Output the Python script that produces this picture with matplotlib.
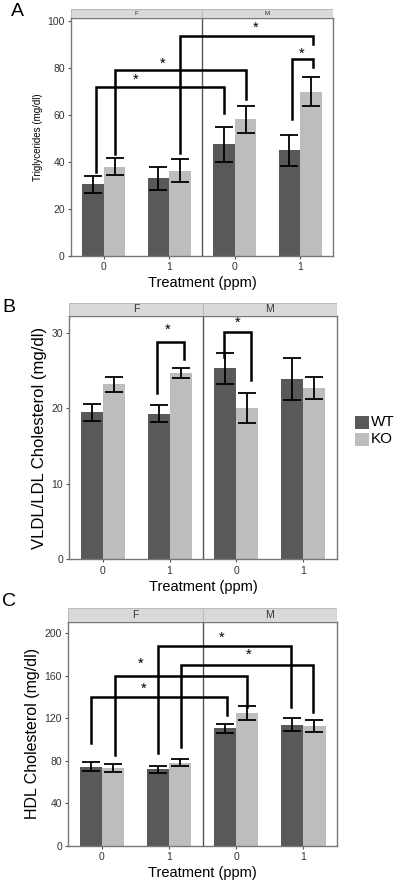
import numpy as np
import matplotlib
matplotlib.use('Agg')
import matplotlib.pyplot as plt
from matplotlib.patches import Rectangle

plt.rcParams['font.family'] = ['Liberation Sans', 'DejaVu Sans']

###################################Data#########################################

groups = ['F', 'M']
doses = ['0', '1', '0', '1']

# Panel A - Triglycerides
tg_wt = [30.5, 33.0, 47.5, 45.0]
tg_wt_se = [3.5, 5.0, 7.5, 6.5]
tg_ko = [38.0, 36.3, 58.2, 70.0]
tg_ko_se = [3.5, 4.8, 5.8, 6.0]

# Panel B - VLDL/LDL
vl_wt = [19.5, 19.3, 25.3, 23.9]
vl_wt_se = [1.1, 1.1, 2.1, 2.8]
vl_ko = [23.2, 24.7, 20.1, 22.7]
vl_ko_se = [1.0, 0.7, 2.0, 1.5]

# Panel C - HDL
hdl_wt = [74.6, 72.4, 110.7, 114.1]
hdl_wt_se = [4.4, 3.3, 4.0, 6.0]
hdl_ko = [73.7, 78.4, 125.4, 112.9]
hdl_ko_se = [3.9, 3.5, 6.6, 5.6]

# Significance brackets: x_left, y_left, x_right, y_right, y_top, star_x, star_y
tg_sig = [(0.88, 35.8, 2.84, 61.0, 71.8, 1.49, 75.0),
          (1.17, 43.4, 3.17, 66.7, 79.1, 1.90, 82.0),
          (2.17, 44.0, 4.20, 90.2, 93.6, 3.32, 97.0),
          (3.88, 58.3, 4.20, 80.6, 83.7, 4.02, 86.0)]
vl_sig = [(1.81, 22.0, 2.22, 26.5, 28.8, 1.97, 30.4),
          (2.81, 26.8, 3.22, 23.8, 30.1, 3.02, 31.3)]
hdl_sig = [(0.84, 96.6, 2.86, 123.2, 139.8, 1.62, 148.0),
           (1.19, 85.6, 3.16, 131.0, 159.9, 1.57, 171.8),
           (1.84, 87.8, 3.81, 131.0, 188.4, 2.78, 196.2),
           (2.18, 93.4, 4.15, 126.3, 170.2, 3.19, 179.6)]

WT_COL = '#595959'
KO_COL = '#bdbdbd'
W, H = 400, 882

###################################Plotting#####################################

fig = plt.figure(figsize=(W / 100, H / 100), dpi=100)


def panel(box, strip_h, wt, wt_se, ko, ko_se, sig, ymax, yticks, ylabel,
          ylab_size, strip_size, letter, letter_xy):
    l, r, t, b = box
    ax = fig.add_axes([l / W, 1 - b / H, (r - l) / W, (b - t) / H])
    x = np.arange(1, 5)
    bw = 0.33
    ax.bar(x - bw / 2, wt, bw, color=WT_COL, zorder=2)
    ax.bar(x + bw / 2, ko, bw, color=KO_COL, zorder=2)
    ax.errorbar(x - bw / 2, wt, yerr=wt_se, fmt='none', ecolor='black',
                elinewidth=1.3, capsize=6.5, capthick=1.3, zorder=3)
    ax.errorbar(x + bw / 2, ko, yerr=ko_se, fmt='none', ecolor='black',
                elinewidth=1.3, capsize=6.5, capthick=1.3, zorder=3)
    for x1, y1, x2, y2, yt, sx, sy in sig:
        ax.plot([x1, x1, x2, x2], [y1, yt, yt, y2], color='black', lw=1.8,
                zorder=4, solid_joinstyle='miter')
        ax.text(sx, sy, '*', ha='center', va='center', fontsize=10.5,
                zorder=5)
    ax.axvline(2.5, color='#555555', lw=1.0, zorder=1)
    ax.set_xlim(0.5, 4.5)
    ax.set_ylim(0, ymax)
    ax.set_xticks(x)
    ax.set_xticklabels(doses, fontsize=7.5, color='#333333')
    ax.set_yticks(yticks)
    ax.set_yticklabels([str(v) for v in yticks], fontsize=7.5, color='#333333')
    ax.tick_params(length=2.5, width=0.8, color='#555555', pad=2)
    for s in ax.spines.values():
        s.set_color('#777777')
        s.set_linewidth(1.0)
    ax.set_xlabel('Treatment (ppm)', fontsize=10.5, labelpad=3)
    ax.set_ylabel(ylabel, fontsize=ylab_size, labelpad=3)

    # Facet strip
    sax = fig.add_axes([l / W, 1 - t / H, (r - l) / W, strip_h / H])
    sax.set_xlim(0, 2)
    sax.set_ylim(0, 1)
    for i, g in enumerate(groups):
        sax.add_patch(Rectangle((i, 0), 1, 1, facecolor='#d9d9d9',
                                edgecolor='#bbbbbb', lw=0.8))
        sax.text(i + 0.5, 0.5, g, ha='center', va='center',
                 fontsize=strip_size, color='#333333')
    sax.axis('off')

    fig.text(letter_xy[0] / W, 1 - letter_xy[1] / H, letter, fontsize=14,
             ha='center', va='center')
    return ax


panel((71, 333, 18, 256), 9, tg_wt, tg_wt_se, tg_ko, tg_ko_se, tg_sig,
      101.3, [0, 20, 40, 60, 80, 100], 'Triglycerides (mg/dl)', 7, 4.5,
      'A', (17, 12))
panel((69.3, 336.7, 315.7, 559.3), 13, vl_wt, vl_wt_se, vl_ko, vl_ko_se, vl_sig,
      32.3, [0, 10, 20, 30], 'VLDL/LDL Cholesterol (mg/dl)', 12, 7.5,
      'B', (9, 308))
panel((68.3, 337, 621.7, 846), 13.4, hdl_wt, hdl_wt_se, hdl_ko, hdl_ko_se, hdl_sig,
      211, [0, 40, 80, 120, 160, 200], 'HDL Cholesterol (mg/dl)', 11.5, 7.5,
      'C', (9, 602))

# Legend
for i, (lab, col) in enumerate([('WT', WT_COL), ('KO', KO_COL)]):
    y0 = 416 + i * 17
    fig.patches.append(Rectangle((355 / W, 1 - (y0 + 13) / H), 14 / W, 13 / H,
                                 facecolor=col, transform=fig.transFigure))
    fig.text(371 / W, 1 - (y0 + 6.5) / H, lab, fontsize=11, va='center')

fig.savefig('out.png', dpi=100)
